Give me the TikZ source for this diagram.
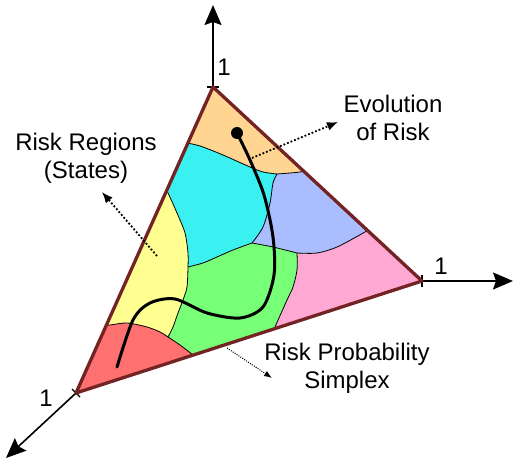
\documentclass[tikz,border=0pt]{standalone}
\usepackage{fontspec}
\setmainfont{Liberation Sans}
\usepackage{tikz}
\usetikzlibrary{arrows.meta,positioning}
\definecolor{simplexbrown}{RGB}{115,35,35}
\definecolor{regionorange}{RGB}{255,213,145}
\definecolor{regioncyan}{RGB}{58,240,240}
\definecolor{regionblue}{RGB}{170,190,255}
\definecolor{regionpink}{RGB}{255,168,212}
\definecolor{regiongreen}{RGB}{120,255,120}
\definecolor{regionyellow}{RGB}{255,255,145}
\definecolor{regionred}{RGB}{255,112,112}

\begin{document}
\begin{tikzpicture}[
  x=1pt,y=-1pt,
  every node/.style={font=\fontsize{24}{28}\selectfont,align=center,inner sep=0pt},
  axisarrow/.style={line width=1.6pt,-{Stealth[length=20pt,width=17pt,inset=3pt]}},
  axistick/.style={line width=1.2pt},
  regionline/.style={draw=black,line width=0.8pt},
  simplexedge/.style={draw=simplexbrown,line width=3.3pt,line join=round},
  hint/.style={line width=1.8pt,dash pattern=on 1.8pt off 2pt,
               -{Latex[length=11pt,width=9pt]}},
  finehint/.style={line width=1pt,dash pattern=on 1pt off 1.3pt,
                   -{Latex[length=8pt,width=6pt]}},
  riskpath/.style={line width=3pt,line cap=round}
]
\useasboundingbox (0,0) rectangle (514,462);

\coordinate (topvertex) at (213,87);
\coordinate (rightvertex) at (422,281);
\coordinate (leftvertex) at (76,393);
\coordinate (topend) at (213,5);
\coordinate (rightend) at (513,281);
\coordinate (leftend) at (6,458);

\draw[axisarrow] (topvertex) -- (topend);
\draw[axisarrow] (rightvertex) -- (rightend);
\draw[axisarrow] (leftvertex) -- (leftend);
\draw[axistick] ([xshift=-6pt]topvertex) -- ([xshift=6pt]topvertex);
\draw[axistick] ([yshift=6pt]rightvertex) -- ([yshift=-6pt]rightvertex);
\draw[axistick] ([shift={(4,4)}]leftvertex) -- ([shift={(-4,-4)}]leftvertex);

\begin{scope}
  \clip (topvertex) -- (rightvertex) -- (leftvertex) -- cycle;
  \fill[regionorange] plot[smooth] coordinates {(182,142) (200,146) (223,155) (250,167) (263,172) (277,174)}
    -- plot[smooth] coordinates {(277,174) (290,173) (300,172) (312,169)}
    -- (335,150) -- (213,60) -- (165,115) -- cycle;
  \fill[regioncyan] plot[smooth] coordinates {(182,142) (200,146) (223,155) (250,167) (263,172) (277,174)}
    -- plot[smooth] coordinates {(277,174) (273,183) (270,203) (263,227) (252,243)}
    -- plot[smooth] coordinates {(252,243) (233,250) (217,257) (203,263) (188,267)}
    -- plot[smooth] coordinates {(188,267) (188,253) (185,233) (177,213) (168,193) (162,183)}
    -- (150,165) -- cycle;
  \fill[regionblue] plot[smooth] coordinates {(277,174) (290,173) (300,172) (312,169)}
    -- (400,200)
    -- plot[smooth] coordinates {(376,225) (365,232) (337,247) (317,253) (297,253)}
    -- plot[smooth] coordinates {(297,253) (273,247) (252,243)}
    -- plot[smooth] coordinates {(252,243) (263,227) (270,203) (273,183) (277,174)} -- cycle;
  \fill[regionpink] plot[smooth] coordinates {(297,253) (317,253) (337,247) (365,232) (376,225)}
    -- (470,285) -- (285,352)
    -- plot[smooth] coordinates {(271,337) (275,327) (287,300) (293,287) (297,270) (297,253)} -- cycle;
  \fill[regiongreen] plot[smooth] coordinates {(252,243) (273,247) (297,253)}
    -- plot[smooth] coordinates {(297,253) (297,270) (293,287) (287,300) (275,327) (271,337)}
    -- plot[smooth] coordinates {(201,362) (193,355) (180,345) (168,337)}
    -- plot[smooth] coordinates {(168,337) (173,327) (178,313) (183,300) (187,287) (188,267)}
    -- plot[smooth] coordinates {(188,267) (203,263) (217,257) (233,250) (252,243)} -- cycle;
  \fill[regionyellow] plot[smooth] coordinates {(162,183) (168,193) (177,213) (185,233) (188,253) (188,267)}
    -- plot[smooth] coordinates {(188,267) (187,287) (183,300) (178,313) (173,327) (168,337)}
    -- plot[smooth] coordinates {(168,337) (160,332) (147,327) (127,323) (110,325) (98,326)}
    -- (80,300) -- cycle;
  \fill[regionred] plot[smooth] coordinates {(98,326) (110,325) (127,323) (147,327) (160,332) (168,337)}
    -- plot[smooth] coordinates {(168,337) (180,345) (193,355) (201,362)}
    -- (60,420) -- cycle;

  \draw[regionline] plot[smooth] coordinates {(182,142) (200,146) (223,155) (250,167) (263,172) (277,174)};
  \draw[regionline] plot[smooth] coordinates {(277,174) (290,173) (300,172) (312,169)};
  \draw[regionline] plot[smooth] coordinates {(277,174) (273,183) (270,203) (263,227) (252,243)};
  \draw[regionline] plot[smooth] coordinates {(252,243) (233,250) (217,257) (203,263) (188,267)};
  \draw[regionline] plot[smooth] coordinates {(188,267) (188,253) (185,233) (177,213) (168,193) (162,183)};
  \draw[regionline] plot[smooth] coordinates {(252,243) (273,247) (297,253)};
  \draw[regionline] plot[smooth] coordinates {(297,253) (317,253) (337,247) (365,232) (376,225)};
  \draw[regionline] plot[smooth] coordinates {(297,253) (297,270) (293,287) (287,300) (275,327) (271,337)};
  \draw[regionline] plot[smooth] coordinates {(188,267) (187,287) (183,300) (178,313) (173,327) (168,337)};
  \draw[regionline] plot[smooth] coordinates {(168,337) (180,345) (193,355) (201,362)};
  \draw[regionline] plot[smooth] coordinates {(168,337) (160,332) (147,327) (127,323) (110,325) (98,326)};
\end{scope}
\draw[simplexedge] (topvertex) -- (rightvertex) -- (leftvertex) -- cycle;

\node[circle,fill=black,minimum size=12pt] (riskstart) at (237,133) {};
\draw[riskpath] plot[smooth] coordinates {(237,133) (250,160) (264,195) (273,237) (274,275) (263,307) (240,318) (207,313) (175,299) (150,303) (133,320) (117,367)};

\node (onetop) at (224,67) {1};
\node (oneright) at (441,266) {1};
\node (oneleft) at (46,398) {1};

\node (regionslabel) at (86,158) {Risk Regions\\(States)};
\node (evolutionlabel) at (393,118) {Evolution\\of Risk};
\node (simplexlabel) at (347,368) {Risk Probability\\Simplex};

\coordinate (evolutionfrom) at (252,158);
\coordinate (evolutionto) at (338,122);
\coordinate (regionsfrom) at (157,256);
\coordinate (regionsto) at (102,192);
\coordinate (simplexfrom) at (227,348);
\coordinate (simplexto) at (272,378);
\draw[hint] (evolutionfrom) -- (evolutionto);
\draw[hint] (regionsfrom) -- (regionsto);
\draw[finehint] (simplexfrom) -- (simplexto);
\end{tikzpicture}
\end{document}
